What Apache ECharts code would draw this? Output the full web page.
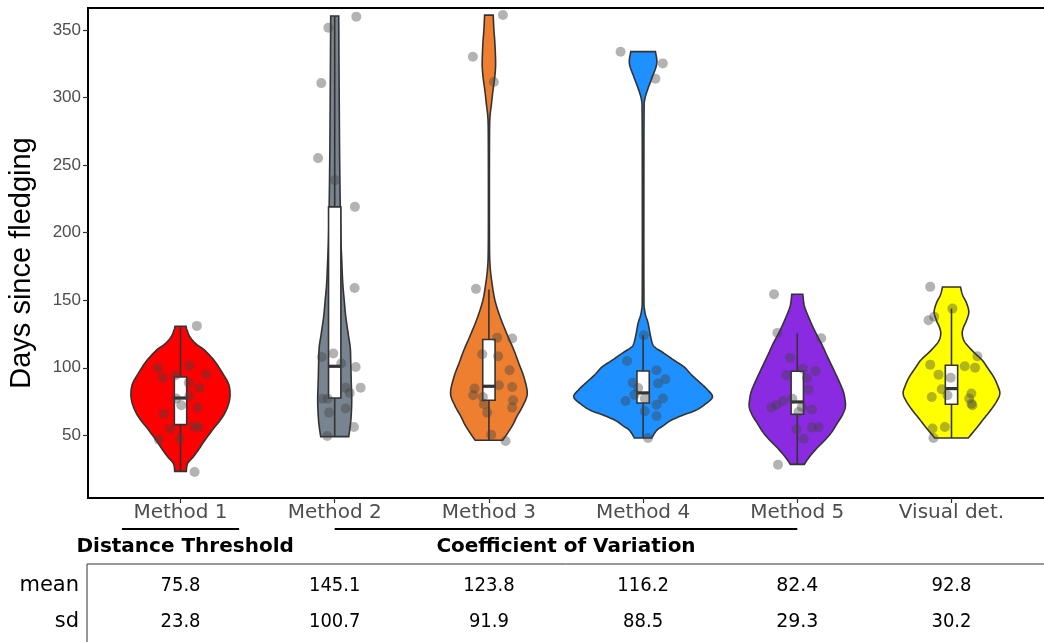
<!DOCTYPE html>
<html>
<head>
<meta charset="utf-8">
<script src="https://cdn.jsdelivr.net/npm/echarts@6/dist/echarts.min.js"></script>
<style>
  html, body { margin: 0; padding: 0; background: #fff; }
  #chart { width: 1044px; height: 642px; }
</style>
</head>
<body>
<div id="chart"></div>
<script>
// categories
const categories = ['Method 1', 'Method 2', 'Method 3', 'Method 4', 'Method 5', 'Visual det.'];
const yTicks = [50, 100, 150, 200, 250, 300, 350];

// jittered observations (days since fledging) and their horizontal jitter (category units)
const pointsM1 = [131, 99.9, 92.7, 94.4, 101.6, 95, 88.8, 85.3, 77.2, 79.1, 72.2, 70.5, 66, 56.7, 56.2, 54.9, 46.8, 47.5, 22.8];
const jitterM1 = [0.106, -0.147, -0.115, -0.032, 0.058, 0.166, 0.054, 0.123, -0.028, 0.058, 0.005, 0.112, -0.108, 0.086, 0.118, -0.067, -0.140, -0.006, 0.091];
const pointsM2 = [359.9, 351.7, 310.7, 255.2, 238.9, 219.1, 159.1, 108, 110.5, 103.1, 100.6, 85.3, 85.3, 81.4, 77.1, 77.1, 66.8, 69.8, 56.2, 49.5];
const jitterM2 = [0.140, -0.041, -0.087, -0.108, 0.002, 0.131, 0.129, -0.084, -0.009, 0.043, 0.136, 0.168, 0.071, 0.097, -0.080, -0.045, -0.037, 0.071, 0.125, -0.048];
const pointsM3 = [361.1, 330.2, 311.5, 158.4, 122.3, 121.6, 110, 108.5, 98.1, 84.6, 87, 85.8, 79.6, 78.4, 75.9, 73, 70.5, 66.8, 50.5, 45.8];
const jitterM3 = [0.091, -0.104, 0.032, -0.084, 0.054, 0.151, -0.043, 0.060, 0.134, -0.093, 0.065, 0.151, -0.102, -0.039, 0.157, -0.032, 0.151, -0.011, 0.015, 0.108];
const pointsM4 = [333.9, 325.3, 313.9, 124.1, 105, 98.1, 91.5, 88.3, 89, 85, 80.1, 77.2, 75.4, 77.2, 72.7, 67.8, 64.3, 48];
const jitterM4 = [-0.146, 0.128, 0.080, 0.005, -0.104, 0.087, 0.145, 0.097, -0.067, -0.032, -0.056, 0.011, -0.114, 0.129, 0.087, 0.011, 0.087, 0.032];
const pointsM5 = [154.4, 125.8, 121.9, 107.5, 99.3, 97.6, 94.4, 92.5, 83.8, 77.1, 75.4, 71, 72.2, 70.5, 69, 67.3, 54.4, 55.7, 56.2, 47.5, 28.3];
const jitterM5 = [-0.151, -0.129, 0.155, -0.047, 0.037, 0.118, -0.071, 0.063, 0.073, -0.032, -0.093, 0.030, -0.136, -0.168, 0.095, 0.008, -0.005, 0.095, 0.138, 0.041, -0.125];
const pointsVD = [159.9, 143.8, 137.7, 135.2, 108.5, 101.1, 100.1, 102.3, 94.9, 92.7, 84.1, 79.6, 78.4, 80.9, 77.2, 72.2, 73.4, 56.2, 55, 48];
const jitterVD = [-0.138, 0.006, -0.112, -0.149, 0.168, 0.086, 0.153, -0.138, -0.084, -0.005, -0.063, -0.026, -0.128, 0.129, 0.115, 0.136, 0.129, -0.043, -0.123, -0.117];

// violin outlines: levels (days) and relative density at each level
const levelsM1 = [23.3, 29, 34, 39, 46, 55, 63.6, 72, 80, 88, 96, 105, 113, 118, 123, 128, 130.7];
const densityM1 = [5.8, 7, 12.7, 17.7, 24, 33, 42, 47.5, 49.5, 48, 42, 34, 24, 15, 9.3, 6.5, 5.5];
const levelsM2 = [49, 60, 75, 90, 105, 115, 125, 138, 150, 163, 180, 200, 250, 300, 360.4];
const densityM2 = [14, 16, 17, 16.5, 16, 15.5, 13.5, 11, 9.5, 8, 7, 6, 5, 4.5, 4];
const levelsM3 = [46.3, 52, 58, 64, 72, 81, 93, 103, 113, 125, 138, 150, 163, 175, 190, 230, 270, 285, 295, 305, 315, 325, 340, 350, 361];
const densityM3 = [13.7, 19, 24, 28, 34, 38.3, 35, 30, 25, 18, 11, 6, 3, 1.2, 0.6, 0.5, 0.6, 1, 2.5, 4, 5.8, 6.7, 6, 5, 4.3];
const levelsM4 = [48, 53.7, 57, 61, 65, 68.5, 73, 78.4, 84, 88.5, 95, 100.6, 106, 110.7, 115, 118, 125, 133, 142.6, 160, 250, 290, 298, 305.5, 315.4, 325.3, 334];
const densityM4 = [8.6, 13.6, 20, 27.6, 40, 52.6, 62, 69.3, 64, 57.6, 48, 41, 30, 21, 12, 9.3, 7, 5, 1.5, 0.8, 0.8, 1, 1.5, 4.3, 9.3, 13.7, 12.3];
const levelsM5 = [28.5, 34, 40, 46, 52, 59, 65, 71, 77, 83, 92, 100.6, 110, 118, 128, 138, 146, 154.4];
const densityM5 = [7, 12, 19, 27, 34, 40, 45, 48, 47.5, 45.7, 40.5, 35, 29, 24, 17, 11, 7, 5.5];
const levelsVD = [48, 56, 62, 68.5, 75, 81, 87, 93, 100, 105.6, 111, 115.4, 120, 125.3, 130, 135, 141.3, 148, 154, 159.8];
const densityVD = [16.7, 25.7, 32, 39, 45, 48.3, 46, 42.3, 36, 30.7, 23, 17.3, 12.5, 10.7, 12, 15, 17.3, 15, 11, 9];

// box plot stats: [lower whisker, Q1, median, Q3, upper whisker]
const boxM1 = [23.3, 57.9, 77.6, 93.2, 130.7];
const boxM2 = [49, 77.6, 101.1, 219.1, 360];
const boxM3 = [46.3, 75.9, 86.3, 120.9, 157.9];
const boxM4 = [48, 73.9, 81.4, 97.6, 124];
const boxM5 = [28.5, 65.6, 74.7, 97.4, 125.3];
const boxVD = [48, 73, 84.6, 101.9, 143.8];

// summary table
const meanValues = ['75.8', '145.1', '123.8', '116.2', '82.4', '92.8'];
const sdValues = ['23.8', '100.7', '91.9', '88.5', '29.3', '30.2'];
const groupLabels = ['Distance Threshold', 'Coefficient of Variation'];

const points = [pointsM1, pointsM2, pointsM3, pointsM4, pointsM5, pointsVD];
const jitter = [jitterM1, jitterM2, jitterM3, jitterM4, jitterM5, jitterVD];
const levels = [levelsM1, levelsM2, levelsM3, levelsM4, levelsM5, levelsVD];
const density = [densityM1, densityM2, densityM3, densityM4, densityM5, densityVD];
const boxes = [boxM1, boxM2, boxM3, boxM4, boxM5, boxVD];

const fills = ['#FF0000', '#78848F', '#EE7F30', '#1E90FF', '#8A2BE2', '#FFFF00'];
const outline = '#333333';

// widest violin gets a full width of 0.9 category
let maxDens = 0;
density.forEach(d => d.forEach(v => { if (v > maxDens) maxDens = v; }));
const widthScale = 0.45 / maxDens;

// catmull-rom so the outline is not jagged
function cr (a, b, c, d, t) {
  const t2 = t * t, t3 = t2 * t;
  return 0.5 * ((2 * b) + (-a + c) * t + (2 * a - 5 * b + 4 * c - d) * t2 + (-a + 3 * b - 3 * c + d) * t3);
}
function smoothProfile (lv, dn) {
  const out = [];
  const n = lv.length;
  for (let k = 0; k < n - 1; k++) {
    const a = k > 0 ? k - 1 : k;
    const d = k + 2 < n ? k + 2 : k + 1;
    for (let s = 0; s < 8; s++) {
      const t = s / 8;
      out.push([cr(lv[a], lv[k], lv[k + 1], lv[d], t), Math.max(0.4, cr(dn[a], dn[k], dn[k + 1], dn[d], t))]);
    }
  }
  out.push([lv[n - 1], dn[n - 1]]);
  return out;
}
const profiles = levels.map((lv, i) => smoothProfile(lv, density[i]));

const scatterData = [];
points.forEach((arr, i) => {
  arr.forEach((v, j) => scatterData.push([i + 1 + jitter[i][j], v]));
});

const chart = echarts.init(document.getElementById('chart'));

const option = {
  animation: false,
  grid: {
    left: 88,
    top: 8,
    width: 959,
    height: 490,
    show: false
  },
  xAxis: {
    type: 'value',
    min: 0.4,
    max: 6.6,
    splitLine: { show: false },
    axisLine: { show: true, lineStyle: { color: '#000', width: 2 } },
    axisTick: { show: true, length: 5, customValues: [1, 2, 3, 4, 5, 6], lineStyle: { color: '#333', width: 1.2 } },
    axisLabel: {
      customValues: [1, 2, 3, 4, 5, 6],
      formatter: v => categories[Math.round(v) - 1],
      color: '#4d4d4d',
      fontFamily: 'DejaVu Sans',
      fontSize: 20,
      margin: 5
    }
  },
  yAxis: {
    type: 'value',
    min: 3.6,
    max: 366.3,
    splitLine: { show: false },
    axisLine: { show: true, lineStyle: { color: '#000', width: 2 } },
    axisTick: { show: true, length: 5, customValues: yTicks, lineStyle: { color: '#333', width: 1.2 } },
    axisLabel: {
      customValues: yTicks,
      color: '#4d4d4d',
      fontFamily: 'Liberation Sans',
      fontSize: 17,
      margin: 7
    }
  },
  series: [
    {
      type: 'custom',
      name: 'violin',
      z: 2,
      data: categories.map((c, i) => [i]),
      renderItem: function (params, api) {
        const i = api.value(0);
        const prof = profiles[i];
        const pts = [];
        for (let j = 0; j < prof.length; j++) {
          pts.push(api.coord([i + 1 - prof[j][1] * widthScale, prof[j][0]]));
        }
        for (let j = prof.length - 1; j >= 0; j--) {
          pts.push(api.coord([i + 1 + prof[j][1] * widthScale, prof[j][0]]));
        }
        return {
          type: 'polygon',
          shape: { points: pts },
          style: { fill: fills[i], stroke: outline, lineWidth: 1.6 }
        };
      }
    },
    {
      type: 'custom',
      name: 'box',
      z: 3,
      data: categories.map((c, i) => [i]),
      renderItem: function (params, api) {
        const i = api.value(0);
        const b = boxes[i];
        const hw = 0.04;
        const lo = api.coord([i + 1, b[0]]);
        const q1 = api.coord([i + 1 - hw, b[1]]);
        const q3 = api.coord([i + 1 + hw, b[3]]);
        const hi = api.coord([i + 1, b[4]]);
        const medL = api.coord([i + 1 - hw, b[2]]);
        const medR = api.coord([i + 1 + hw, b[2]]);
        const q1c = api.coord([i + 1, b[1]]);
        const q3c = api.coord([i + 1, b[3]]);
        const ls = { stroke: outline, lineWidth: 1.6 };
        return {
          type: 'group',
          children: [
            { type: 'line', shape: { x1: hi[0], y1: hi[1], x2: q3c[0], y2: q3c[1] }, style: ls },
            { type: 'line', shape: { x1: lo[0], y1: lo[1], x2: q1c[0], y2: q1c[1] }, style: ls },
            {
              type: 'rect',
              shape: { x: q1[0], y: q3[1], width: q3[0] - q1[0], height: q1[1] - q3[1] },
              style: { fill: '#fff', stroke: outline, lineWidth: 1.6 }
            },
            { type: 'line', shape: { x1: medL[0], y1: medL[1], x2: medR[0], y2: medR[1] }, style: { stroke: outline, lineWidth: 3.2 } }
          ]
        };
      }
    },
    {
      type: 'scatter',
      name: 'points',
      z: 4,
      symbolSize: 10,
      itemStyle: { color: 'rgba(64,64,64,0.5)' },
      data: scatterData
    }
  ]
};

chart.setOption(option);

// annotations and summary table below the axis
const px = v => chart.convertToPixel({ xAxisIndex: 0 }, v);
const numFont = '"Liberation Sans Narrow", "Arial Narrow", "DejaVu Sans Condensed", "Liberation Sans", sans-serif';
const graphics = [];
// top frame line of the panel
graphics.push({ type: 'line', shape: { x1: 87, y1: 8, x2: 1044, y2: 8 }, style: { stroke: '#000', lineWidth: 2 } });
graphics.push({
  type: 'text',
  x: 22, y: 263,
  rotation: Math.PI / 2,
  style: { text: 'Days since fledging', font: '29px "Liberation Sans"', fill: '#000', align: 'center', verticalAlign: 'middle' }
});
// group underlines
graphics.push({ type: 'line', shape: { x1: px(1 - 0.38), y1: 529, x2: px(1 + 0.38), y2: 529 }, style: { stroke: '#000', lineWidth: 2 } });
graphics.push({ type: 'line', shape: { x1: px(2), y1: 529, x2: px(5), y2: 529 }, style: { stroke: '#000', lineWidth: 2 } });
graphics.push({
  type: 'text', x: px(1.03), y: 547,
  style: { text: groupLabels[0], font: 'bold 20px "DejaVu Sans"', fill: '#000', align: 'center', verticalAlign: 'middle' }
});
graphics.push({
  type: 'text', x: px(3.5), y: 547,
  style: { text: groupLabels[1], font: 'bold 20px "DejaVu Sans"', fill: '#000', align: 'center', verticalAlign: 'middle' }
});
// table frame
graphics.push({ type: 'line', shape: { x1: 87, y1: 564, x2: 1044, y2: 564 }, style: { stroke: '#333', lineWidth: 1 } });
graphics.push({ type: 'line', shape: { x1: 87, y1: 564, x2: 87, y2: 642 }, style: { stroke: '#333', lineWidth: 1 } });
graphics.push({
  type: 'text', x: 79, y: 586,
  style: { text: 'mean', font: '21px "DejaVu Sans"', fill: '#000', align: 'right', verticalAlign: 'middle' }
});
graphics.push({
  type: 'text', x: 79, y: 622,
  style: { text: 'sd', font: '21px "DejaVu Sans"', fill: '#000', align: 'right', verticalAlign: 'middle' }
});
categories.forEach((c, i) => {
  const font = i === 4 ? '19px "DejaVu Sans"' : '20px ' + numFont;
  graphics.push({
    type: 'text', x: px(i + 1), y: 586,
    style: { text: meanValues[i], font: font, fill: '#000', align: 'center', verticalAlign: 'middle' }
  });
  graphics.push({
    type: 'text', x: px(i + 1), y: 622,
    style: { text: sdValues[i], font: font, fill: '#000', align: 'center', verticalAlign: 'middle' }
  });
});
chart.setOption({ graphic: graphics });
</script>
</body>
</html>
